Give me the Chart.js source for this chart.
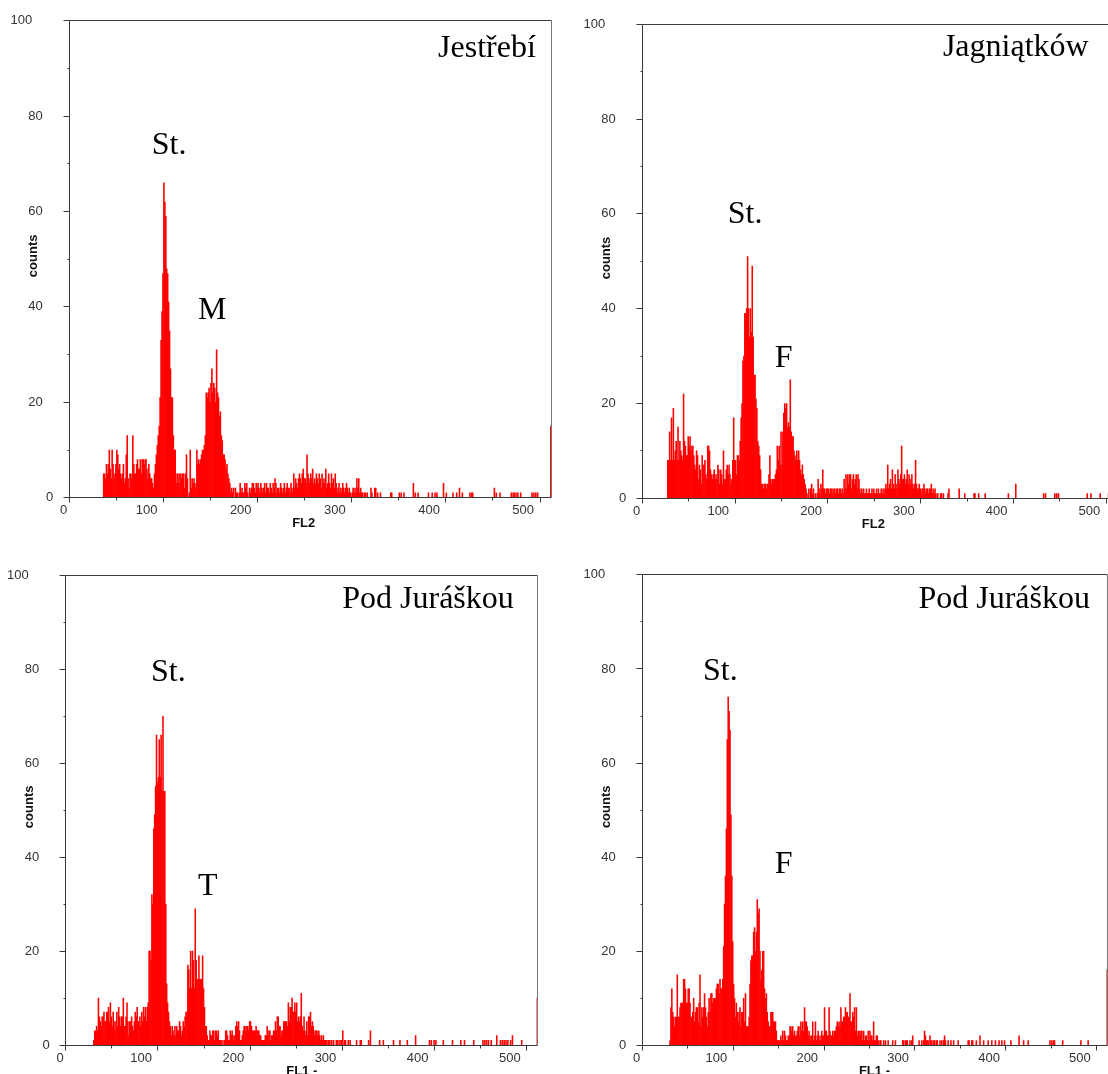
<!DOCTYPE html>
<html>
<head>
<meta charset="utf-8">
<script src="https://cdn.jsdelivr.net/npm/chart.js@4/dist/chart.umd.min.js"></script>
<style>
  html, body { margin: 0; padding: 0; background: #ffffff; overflow: hidden; }
  #wrap { position: relative; width: 1108px; height: 1074px; overflow: hidden; background: #fff; }
  #wrap canvas { position: absolute; }
</style>
</head>
<body>
<div id="wrap">
  <canvas id="c1" width="556" height="536" style="left:0px;top:0px"></canvas>
  <canvas id="c2" width="570" height="536" style="left:556px;top:0px"></canvas>
  <canvas id="c3" width="556" height="536" style="left:0px;top:538px"></canvas>
  <canvas id="c4" width="560" height="536" style="left:556px;top:538px"></canvas>
</div>
<script>
// ---------------- DATA (channel counts) ----------------
const CHANNELS = 512;
const yLabelValues = [0, 20, 40, 60, 80, 100];
const yTickValues = [0, 10, 20, 30, 40, 50, 60, 70, 80, 90, 100];
const xLabelValues = [0, 100, 200, 300, 400, 500];
const xTickValues = [0, 50, 100, 150, 200, 250, 300, 350, 400, 450, 500];

// Panel 1: Jestřebí (FL2)
const jestrebiStart = 36;
const jestrebiCounts = [
  5,5,4,7,5,7,10,6,4,10,
  7,4,5,7,10,9,6,7,5,4,
  5,7,3,4,9,13,4,2,5,5,
  4,13,7,5,5,7,8,6,6,8,
  5,8,8,7,8,8,6,4,7,5,
  4,4,3,2,5,7,9,11,13,15,
  21,33,39,47,66,62,59,48,47,41,
  35,27,21,21,13,10,10,3,5,5,
  3,5,5,4,5,5,2,5,9,4,
  0,1,10,2,4,3,4,3,2,10,
  7,8,7,8,9,10,10,11,13,22,
  21,22,23,20,24,27,22,24,23,20,
  31,22,21,17,18,13,12,9,9,8,
  6,7,5,4,3,1,2,1,2,0,
  2,1,1,0,1,3,1,2,1,1,
  3,2,3,1,0,2,1,2,3,3,
  2,1,3,2,3,2,1,3,2,1,
  2,3,1,3,2,2,1,3,2,1,
  3,2,4,3,1,2,2,1,3,2,
  1,2,3,1,2,3,2,2,1,3,
  2,1,5,2,4,3,2,4,5,4,
  3,5,6,4,4,3,9,5,4,3,
  5,4,6,3,4,3,5,4,3,5,
  4,2,5,3,4,3,6,2,3,5,
  3,2,5,3,4,2,5,3,1,2,
  3,1,2,1,3,2,1,2,3,2,
  1,2,1,0,1,2,1,2,1,4,
  2,4,1,2,1,1,0,1,1,0,
  1,0,0,0,2,1,0,0,2,2,
  0,1,0,0,1
];
const jestrebiTailChannels = [341,342,350,352,355,365,367,370,381,385,388,390,397,400,407,411,414,417,425,427,428,451,453,457,469,471,472,474,476,479,491,493,495,497,511];
const jestrebiTailCounts   = [1,1,1,1,1,3,1,1,1,1,1,1,3,1,1,1,2,1,1,1,1,2,1,1,1,1,1,1,1,1,1,1,1,1,15];

// Panel 2: Jagniątków (FL2)
const jagniatkowStart = 27;
const jagniatkowCounts = [
  8,8,14,8,17,8,19,8,10,12,
  8,15,8,12,10,9,8,22,12,11,
  9,9,13,11,13,10,11,11,9,7,
  6,10,9,4,7,6,3,9,7,7,
  8,5,4,11,11,10,6,5,4,5,
  6,4,5,4,7,6,3,6,5,3,
  10,4,4,6,7,5,7,5,3,4,
  8,17,8,8,5,9,9,8,12,17,
  20,29,30,39,39,40,51,40,34,40,
  35,49,34,26,26,21,19,12,11,9,
  6,3,3,2,3,3,2,3,3,5,
  9,4,3,4,4,4,5,6,11,8,
  11,7,14,7,14,18,20,19,20,15,
  16,15,25,14,13,13,10,9,8,10,
  8,10,8,6,5,7,5,4,3,2,
  1,0,2,0,2,3,1,2,0,1,
  0,1,4,2,1,3,2,6,2,2,
  1,2,2,2,1,2,2,2,1,2,
  2,1,2,2,1,2,2,1,2,1,
  4,2,5,2,5,3,5,5,2,4,
  5,3,4,5,2,5,4,2,1,2,
  1,2,1,1,2,1,1,2,1,1,
  2,1,2,1,1,2,1,2,1,1,
  2,1,2,1,2,3,2,7,2,3,
  4,2,6,3,2,5,3,2,6,4,
  3,5,11,4,4,5,3,4,6,3,
  5,4,3,5,3,2,3,8,3,2,
  2,3,2,1,2,2,3,2,1,2,
  2,1,2,2,3,1,2,1,2,1,
  0,1,0,0,1,1,0,1,0,0,
  0,0,1,2,0,0,0,0,0
];
const jagniatkowTailChannels = [341,347,357,358,362,369,394,402,432,434,444,446,448,479,483,493,502];
const jagniatkowTailCounts   = [2,1,1,1,1,1,1,3,1,1,1,1,1,1,1,1,1];

// Panel 3: Pod Juráškou (FL1, peak T)
const jurasekTStart = 30;
const jurasekTCounts = [
  1,3,3,4,3,10,6,5,4,6,
  6,7,5,5,7,7,8,5,9,6,
  4,7,5,3,5,7,4,8,6,4,
  6,6,10,4,4,6,9,5,2,5,
  5,6,4,3,5,7,6,8,5,5,
  6,4,7,5,8,6,8,5,8,9,
  20,20,18,32,30,46,49,55,66,56,
  57,65,57,66,54,70,54,54,30,13,
  9,7,5,4,2,4,3,2,4,2,
  4,3,3,5,4,2,3,5,4,6,
  7,7,17,16,12,20,12,20,18,12,
  29,18,14,14,19,14,14,14,19,12,
  8,4,4,2,1,1,3,2,2,3,
  3,1,3,3,2,3,1,1,1,0,
  1,0,1,3,3,2,1,1,3,2,
  3,2,1,2,4,5,4,5,3,1,
  1,2,3,4,4,3,4,4,3,5,
  5,4,3,3,3,3,4,3,3,3,
  2,2,1,1,1,1,2,2,4,2,
  3,3,1,2,2,3,3,5,3,6,
  6,4,4,2,3,3,5,5,5,5,
  4,9,5,8,8,10,7,7,9,7,
  9,5,6,5,6,11,4,3,6,3,
  2,5,2,6,6,7,4,5,4,2,
  3,3,3,2,3,2,1,2,1,2,
  1,1,1,0,1,1,1,0,1,0,
  1,0,0,1,1,0,1,0,1,1,
  3,0,1,1,0,0,1,0,1,0,
  0,0,0,0,0,1,0,0,0,1,
  1,0,0,0,0,0,0,0,1,0,
  3,0,0,0,0,0,0,0,0,0,
  1,0,0,0,1,0,0,0,0,0
];
const jurasekTTailChannels = [355,362,370,379,394,396,399,401,409,419,428,432,442,452,454,456,458,461,467,471,473,475,477,479,482,484,494,511];
const jurasekTTailCounts   = [1,1,1,2,1,1,1,1,1,1,1,1,1,1,1,1,1,1,2,1,1,1,1,1,1,2,1,10];

// Panel 4: Pod Juráškou (FL1, peak F)
const jurasekFStart = 30;
const jurasekFCounts = [
  1,8,12,7,6,4,6,6,15,6,
  6,8,9,9,9,14,14,12,9,9,
  12,12,9,6,6,7,10,5,7,8,
  8,5,9,15,4,8,6,8,11,8,
  6,4,7,10,7,11,11,9,10,10,
  10,12,13,13,11,14,12,12,14,21,
  30,36,46,65,74,71,67,49,36,22,
  13,10,6,9,7,5,7,8,4,7,
  7,10,5,11,4,4,4,6,13,18,
  19,19,24,25,20,24,31,28,29,20,
  14,16,20,20,12,10,11,7,5,4,
  4,7,7,7,5,5,5,3,1,1,
  1,1,2,1,3,1,3,2,1,1,
  2,2,4,4,3,4,2,3,2,2,
  3,4,2,4,5,3,5,3,8,5,
  5,4,2,3,1,2,2,5,1,2,
  5,1,2,3,1,2,1,3,2,2,
  8,3,3,2,2,8,3,2,2,3,
  2,3,3,4,5,4,5,4,8,5,
  5,6,6,8,7,7,6,6,11,5,
  5,7,6,8,3,8,2,3,3,2,
  3,3,1,3,1,2,2,1,3,1,
  3,2,2,1,5,1,1,2,2,1,
  0,1,1,0,0,1,0,1,0,0,
  1,0,0,0,0,1,0,0,1,0,
  0,0,0,0,0,0,1,1,0,1,
  1,1,0,0,1,0,1,2,0,0,
  0,0,0,0,1,0,0,1,0,1,
  3,2,1,1,1,0,2,1,1,0,
  1,1,0,1,1,0,0,1,0,1,
  0,1,2,1,0,0,1,0,0,1,
  0,0,1,0,0,0,0,1,0,0,
  0,0,0,0,0,0,0,0,1,1
];
const jurasekFTailChannels = [362,363,367,371,375,380,384,388,392,395,398,405,414,419,424,448,450,452,453,462,482,490,511];
const jurasekFTailCounts   = [1,1,1,2,1,1,1,1,1,1,1,1,2,1,1,1,1,1,1,1,1,1,16];

// ---------------- BUILD ----------------
function histogramPoints(start, counts, tailChannels, tailCounts) {
  const pts = [];
  counts.forEach((c, i) => { if (c > 0) pts.push({ x: start + i + 0.5, y: c }); });
  tailChannels.forEach((ch, i) => pts.push({ x: ch + 0.5, y: tailCounts[i] }));
  return pts;
}

const AXIS_COLOR = '#3a3a3a';
const LABEL_COLOR = '#333333';
const SANS = '"Liberation Sans", Arial, sans-serif';
const SERIF = '"Liberation Serif", "Times New Roman", serif';

const panels = [
  { canvas: 'c1', title: 'Jestřebí', xTitle: 'FL2', xTitleAt: 249,
    data: histogramPoints(jestrebiStart, jestrebiCounts, jestrebiTailChannels, jestrebiTailCounts),
    padding: { left: 69.3, top: 20.7, right: 4.7, bottom: 38.3 },
    titleAt: [495.5, 92.4], marks: [['St.', 87.6, 72.1], ['M', 136.7, 37.5]] },
  { canvas: 'c2', title: 'Jagniątków', xTitle: 'FL2', xTitleAt: 249,
    data: histogramPoints(jagniatkowStart, jagniatkowCounts, jagniatkowTailChannels, jagniatkowTailCounts),
    padding: { left: 86.3, top: 24.3, right: 8.6, bottom: 37.7 },
    titleAt: [481, 93.4], marks: [['St.', 92.1, 58], ['F', 142.7, 27.6]] },
  { canvas: 'c3', title: 'Pod Juráškou', xTitle: 'FL1 -', xTitleAt: 256,
    data: histogramPoints(jurasekTStart, jurasekTCounts, jurasekTTailChannels, jurasekTTailCounts),
    padding: { left: 65.7, top: 37.3, right: 18.2, bottom: 29 },
    titleAt: [486, 93], marks: [['St.', 92.5, 77.6], ['T', 143.5, 31.9]] },
  { canvas: 'c4', title: 'Pod Juráškou', xTitle: 'FL1 -', xTitleAt: 255.4,
    data: histogramPoints(jurasekFStart, jurasekFCounts, jurasekFTailChannels, jurasekFTailCounts),
    padding: { left: 86.3, top: 36.9, right: 8.3, bottom: 28.7 },
    titleAt: [492.5, 92.9], marks: [['St.', 66.8, 77.6], ['F', 145.6, 36.7]] }
];

function framePlugin(p) {
  return {
    id: 'frame_' + p.canvas,
    afterDatasetsDraw(chart) {
      const ctx = chart.ctx;
      const a = chart.chartArea;
      const xs = chart.scales.x, ys = chart.scales.y;
      const L = Math.floor(a.left) + 0.5, R = Math.floor(a.right) + 0.5;
      const T = Math.floor(a.top) + 0.5, B = Math.floor(a.bottom) + 0.5;
      ctx.save();
      ctx.lineWidth = 1;
      ctx.strokeStyle = AXIS_COLOR;
      ctx.beginPath();
      ctx.moveTo(L, T); ctx.lineTo(R, T);
      ctx.moveTo(L, T); ctx.lineTo(L, B);
      ctx.moveTo(L - 1, B); ctx.lineTo(R, B);
      ctx.stroke();
      ctx.strokeStyle = '#777';
      ctx.beginPath(); ctx.moveTo(R, T); ctx.lineTo(R, B); ctx.stroke();
      ctx.strokeStyle = AXIS_COLOR;
      // y ticks
      ctx.beginPath();
      yTickValues.forEach(v => {
        const py = Math.floor(ys.getPixelForValue(v)) + 0.5;
        const len = (v % 20 === 0) ? 6 : 2;
        ctx.moveTo(L - len, py); ctx.lineTo(L, py);
      });
      // x ticks
      xTickValues.forEach(v => {
        const px = Math.floor(xs.getPixelForValue(v)) + 0.5;
        const len = (v % 100 === 0) ? 5 : 3;
        ctx.moveTo(px, B); ctx.lineTo(px, B + len);
      });
      ctx.stroke();
      // tick labels
      ctx.fillStyle = LABEL_COLOR;
      ctx.font = '13px ' + SANS;
      ctx.textBaseline = 'middle';
      ctx.textAlign = 'right';
      yLabelValues.forEach(v => {
        const s = String(v);
        ctx.fillText(s, a.left - 16 - 10.5 * (s.length - 1), ys.getPixelForValue(v));
      });
      xLabelValues.forEach(v => {
        const s = String(v);
        ctx.fillText(s, xs.getPixelForValue(v) - 2 - 2 * (s.length - 1), a.bottom + 13);
      });
      // axis titles
      ctx.fillStyle = '#111';
      ctx.font = 'bold 13px ' + SANS;
      ctx.textAlign = 'center';
      ctx.fillText(p.xTitle, xs.getPixelForValue(p.xTitleAt), a.bottom + 26);
      ctx.save();
      ctx.translate(a.left - 36, ys.getPixelForValue(50.7));
      ctx.rotate(-Math.PI / 2);
      ctx.fillText('counts', 0, 0);
      ctx.restore();
      // panel title and peak labels
      ctx.fillStyle = '#000';
      ctx.font = '32px ' + SERIF;
      ctx.textBaseline = 'alphabetic';
      ctx.textAlign = 'right';
      ctx.fillText(p.title, xs.getPixelForValue(p.titleAt[0]), ys.getPixelForValue(p.titleAt[1]));
      ctx.textAlign = 'left';
      p.marks.forEach(m => {
        ctx.fillText(m[0], xs.getPixelForValue(m[1]), ys.getPixelForValue(m[2]));
      });
      ctx.restore();
    }
  };
}

panels.forEach(p => {
  new Chart(document.getElementById(p.canvas), {
    type: 'bar',
    data: {
      datasets: [{
        label: p.title,
        data: p.data,
        backgroundColor: '#ff0000',
        borderWidth: 0,
        categoryPercentage: 1.0,
        barPercentage: 1.0,
        grouped: false
      }]
    },
    options: {
      responsive: false,
      animation: false,
      devicePixelRatio: 1,
      layout: { padding: p.padding },
      plugins: { legend: { display: false }, tooltip: { enabled: false }, title: { display: false } },
      scales: {
        x: { type: 'linear', min: 0, max: CHANNELS, offset: false, display: false },
        y: { type: 'linear', min: 0, max: 100, display: false }
      }
    },
    plugins: [framePlugin(p)]
  });
});
</script>
</body>
</html>
